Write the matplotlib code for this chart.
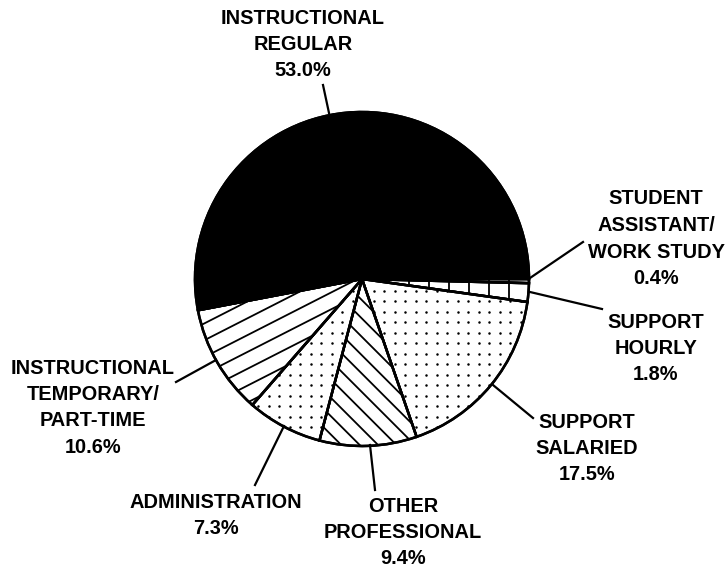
import numpy as np
import matplotlib.pyplot as plt
from matplotlib.collections import LineCollection
from matplotlib.patches import PathPatch

# slices, clockwise from the right-hand edge of the black wedge
labels = ['STUDENT\nASSISTANT/\nWORK STUDY', 'SUPPORT\nHOURLY', 'SUPPORT\nSALARIED',
          'OTHER\nPROFESSIONAL', 'ADMINISTRATION',
          'INSTRUCTIONAL\nTEMPORARY/\nPART-TIME', 'INSTRUCTIONAL\nREGULAR']
shares = [0.4, 1.8, 17.5, 9.4, 7.3, 10.6, 53.0]

# layout, in pixels from the top-left corner
cx, cy, r = 362, 279, 167
text_pos = [(656, 199), (656, 322), (587, 422), (403, 506), (216, 502), (93, 368), (303, 18)]
leaders = [((583, 242), (530, 278)), ((602, 309), (530, 292)), ((533, 418), (493, 385)),
           ((375, 490), (370, 445)), ((255, 485), (284, 426)), ((176, 382), (216, 360)),
           ((323, 85), (329, 113))]
# fill style per slice: ('v', spacing) vertical lines, ('d', spacing) dots,
# ('l', angle, spacing) slanted lines, ('k',) solid black
fills = [('v', 20), ('v', 20), ('d', 10.5), ('l', 45, 13), ('d', 10.5), ('l', -27, 15), ('k',)]
step = 26.5

fig = plt.figure(figsize=(7.26, 5.67), dpi=100)
ax = fig.add_axes([0, 0, 1, 1])

wedges, _ = ax.pie(shares, center=(cx, cy), radius=r, startangle=0, counterclock=True,
                   colors=['white'] * 6 + ['black'],
                   wedgeprops=dict(edgecolor='black', linewidth=1.8))
ax.set_xlim(0, 726)
ax.set_ylim(567, 0)
ax.set_aspect('equal')
ax.axis('off')


def line_hatch(w, ang, sp):
    d = np.array([np.cos(np.radians(ang)), np.sin(np.radians(ang))])
    n = np.array([-d[1], d[0]])
    segs = []
    for k in np.arange(-r - sp, r + sp, sp):
        p = np.array([cx, cy]) + k * n
        segs.append([p - (r + 20) * d, p + (r + 20) * d])
    lc = LineCollection(segs, colors='black', linewidths=1.3)
    ax.add_collection(lc)
    lc.set_clip_path(w)


def dot_hatch(w, sp):
    g = np.arange(-r, r + sp, sp)
    gx, gy = np.meshgrid(cx + g, cy + g)
    pts, = ax.plot(gx.ravel(), gy.ravel(), 'o', ms=1.8, color='black', mew=0)
    pts.set_clip_path(w)


for w, f in zip(wedges, fills):
    if f[0] == 'v':
        line_hatch(w, 90, f[1])
    elif f[0] == 'l':
        line_hatch(w, f[1], f[2])
    elif f[0] == 'd':
        dot_hatch(w, f[1])

# redraw outlines on top of the fills
for w in wedges:
    ax.add_patch(PathPatch(w.get_path(), fill=False, edgecolor='black', linewidth=1.8,
                           transform=w.get_transform()))

for lab, share, (tx, ty), (a, b) in zip(labels, shares, text_pos, leaders):
    lines = lab.split('\n') + [f'{share:.1f}%']
    for i, s in enumerate(lines):
        ax.text(tx, ty + i * step, s, ha='center', va='center', fontsize=14.4,
                fontweight='bold', family='Liberation Sans')
    ax.plot([a[0], b[0]], [a[1], b[1]], color='black', lw=1.6)

fig.savefig('out.png', dpi=100)
